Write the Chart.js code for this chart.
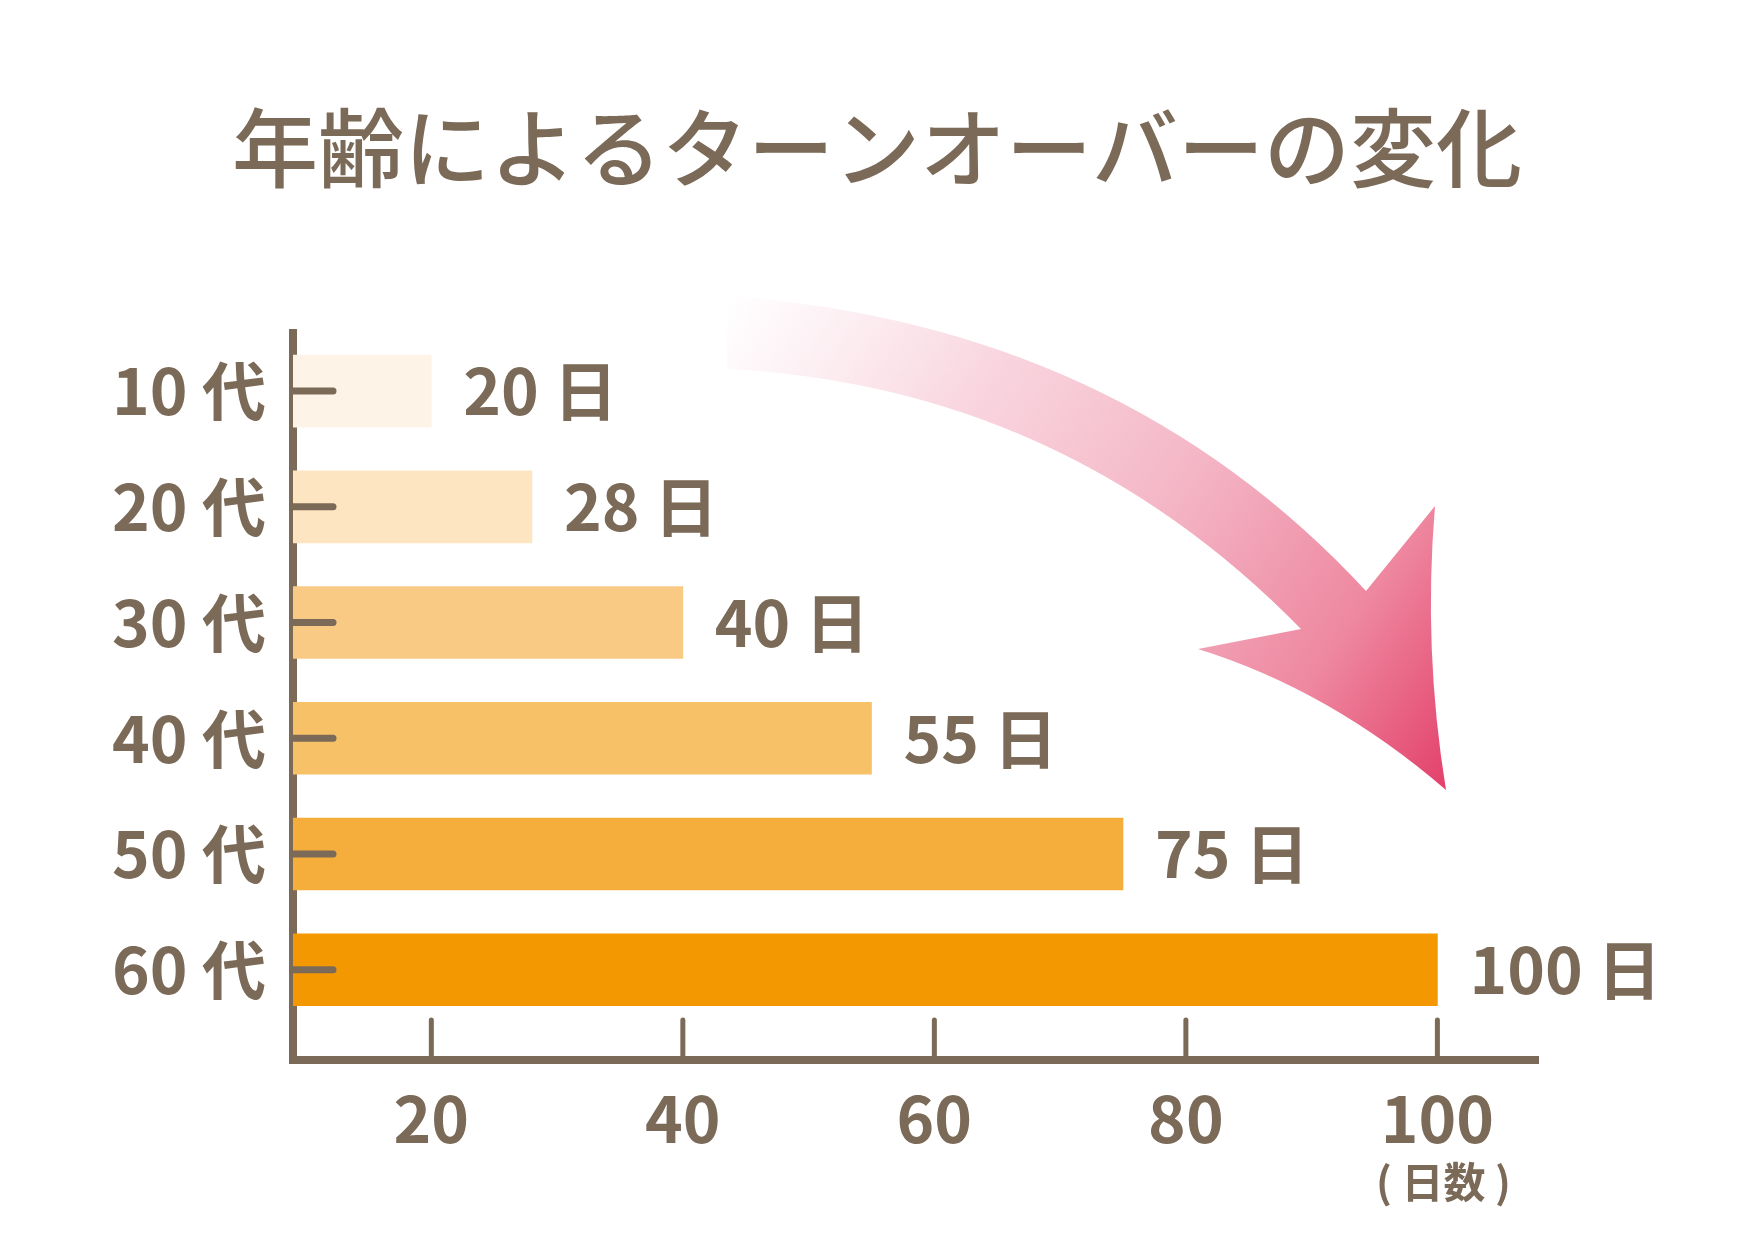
<!DOCTYPE html>
<html lang="ja">
<head>
<meta charset="utf-8">
<title>年齢によるターンオーバーの変化</title>
<script src="https://cdn.jsdelivr.net/npm/chart.js@4/dist/chart.umd.min.js"></script>
<style>
html, body { margin:0; padding:0; background:#fff; }
#wrap { width:1754px; height:1240px; }
</style>
</head>
<body>
<div id="wrap"><canvas id="grafico" width="1754" height="1240"></canvas></div>
<script>
const titulo = "年齢によるターンオーバーの変化";
const idades = ["10 代", "20 代", "30 代", "40 代", "50 代", "60 代"];
const dias = [20, 28, 40, 55, 75, 100];
const coresBarras = ["#fdf4e7", "#fde5c2", "#f8ca84", "#f7c168", "#f5ae3b", "#f39800"];
const ticksX = [20, 40, 60, 80, 100];
const unidade = "日";
const tituloEixoX = "( 日数 )";

const marrom = "#7b6a57";
const fonte = "'Noto Sans CJK JP', 'Noto Sans', sans-serif";

const pontos = dias.map((d, i) => ({x: d, y: i + 1}));

/* seta rosa + marcas internas + rotulos */
const decor = {
id: "decor",
beforeDatasetsDraw(chart){
const ctx = chart.ctx;
ctx.save();
const g = ctx.createLinearGradient(727, 300, 1446, 790);
g.addColorStop(0, "rgba(248,215,224,0)");
g.addColorStop(0.3, "rgba(248,208,219,0.9)");
g.addColorStop(0.55, "#f4b6c6");
g.addColorStop(0.8, "#ee88a0");
g.addColorStop(1, "#e3406a");
ctx.fillStyle = g;
ctx.beginPath();
ctx.moveTo(727, 296);
ctx.quadraticCurveTo(1119, 324, 1366, 591);
ctx.lineTo(1435, 506);
ctx.quadraticCurveTo(1423, 649, 1446, 790);
ctx.quadraticCurveTo(1330, 690, 1198, 649);
ctx.lineTo(1301, 629);
ctx.quadraticCurveTo(1063, 386, 727, 369);
ctx.closePath();
ctx.fill();
ctx.restore();
},
afterDatasetsDraw(chart){
const ctx = chart.ctx;
const xs = chart.scales.x;
const ys = chart.scales.y;
const area = chart.chartArea;
ctx.save();
ctx.strokeStyle = marrom;
ctx.lineCap = "round";

ctx.lineWidth = 7;
idades.forEach((_, i) => {
const y = ys.getPixelForValue(i + 1);
ctx.beginPath();
ctx.moveTo(area.left, y);
ctx.lineTo(area.left + 40, y);
ctx.stroke();
});

ctx.lineWidth = 5;
ticksX.forEach(v => {
const x = xs.getPixelForValue(v);
ctx.beginPath();
ctx.moveTo(x, area.bottom - 40);
ctx.lineTo(x, area.bottom);
ctx.stroke();
});

ctx.fillStyle = marrom;
ctx.textBaseline = "middle";
ctx.textAlign = "left";
ctx.font = "bold 64px " + fonte;
const meta = chart.getDatasetMeta(0);
meta.data.forEach((bar, i) => {
ctx.fillText(dias[i] + " " + unidade, bar.x + 32, bar.y);
});

ctx.textAlign = "center";
ctx.font = "bold 42px " + fonte;
ctx.fillText(tituloEixoX, xs.getPixelForValue(100) + 6, 1182);
ctx.restore();
}
};

new Chart(document.getElementById("grafico"), {
type: "bar",
data: {
datasets: [{
data: pontos,
backgroundColor: coresBarras,
borderWidth: 0,
barThickness: 72,
clip: 0
}]
},
options: {
indexAxis: "y",
responsive: false,
animation: false,
devicePixelRatio: 1,
layout: {padding: 0},
plugins: {
legend: {display: false},
tooltip: {enabled: false},
title: {
display: true,
text: titulo,
color: marrom,
font: {family: fonte, size: 86, weight: "500"},
padding: {top: 97, bottom: 133}
}
},
scales: {
x: {
type: "linear",
min: 9,
max: 108,
z: 1,
grid: {display: false, drawTicks: false},
border: {display: true, color: marrom, width: 8},
ticks: {color: marrom, padding: 20, font: {family: fonte, size: 64, weight: "bold"}},
afterBuildTicks: s => { s.ticks = ticksX.map(v => ({value: v})); },
afterFit: s => { s.height = 180; }
},
y: {
type: "linear",
min: 0.5,
max: 6.78,
reverse: true,
offset: false,
z: 1,
grid: {display: false, drawTicks: false, offset: false},
border: {display: true, color: marrom, width: 8},
ticks: {
color: marrom,
padding: 27,
font: {family: fonte, size: 64, weight: "bold"},
callback: v => idades[v - 1]
},
afterBuildTicks: s => { s.ticks = idades.map((_, i) => ({value: i + 1})); },
afterFit: s => { s.width = 293; }
},
y2: {
type: "linear",
position: "right",
grid: {display: false, drawTicks: false},
border: {display: false},
ticks: {display: false},
afterFit: s => { s.width = 216; }
}
}
},
plugins: [decor]
});
</script>
</body>
</html>
